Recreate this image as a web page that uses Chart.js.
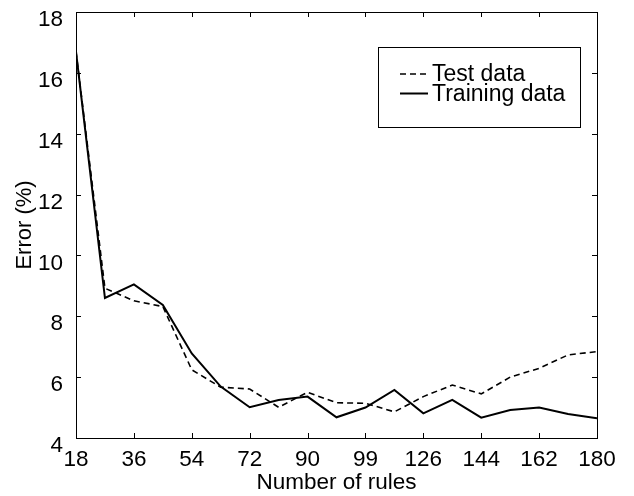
<!DOCTYPE html>
<html>
<head>
<meta charset="utf-8">
<script src="https://cdn.jsdelivr.net/npm/chart.js@4/dist/chart.umd.min.js"></script>
<style>
  html, body { margin: 0; padding: 0; background: #fff; }
  #wrap { width: 634px; height: 496px; position: relative; }
</style>
</head>
<body>
<div id="wrap"><canvas id="c" width="634" height="496"></canvas></div>
<script>
// ---- data ----
const numRules = [18, 27, 36, 45, 54, 63, 72, 81, 90, 99, 108, 117, 126, 135, 144, 153, 162, 171, 180];
const testError = [16.7, 8.92, 8.51, 8.32, 6.24, 5.67, 5.61, 5.01, 5.50, 5.16, 5.14, 4.86, 5.36, 5.74, 5.45, 6.00, 6.29, 6.73, 6.84];
const trainingError = [16.7, 8.60, 9.05, 8.37, 6.78, 5.69, 5.01, 5.25, 5.36, 4.68, 5.00, 5.58, 4.81, 5.25, 4.67, 4.92, 5.00, 4.79, 4.65];
const xTickLabels = ['18', '36', '54', '72', '90', '99', '126', '144', '162', '180'];
const yTickValues = [4, 6, 8, 10, 12, 14, 16, 18];
const seriesLabels = ['Test data', 'Training data'];
const xTitle = 'Number of rules';
const yTitle = 'Error (%)';

const FONT = "'Liberation Sans', Arial, Helvetica, sans-serif";
Chart.defaults.color = '#000';
Chart.defaults.font.family = FONT;

const toPoints = (xs, ys) => xs.map((x, i) => ({ x: x, y: ys[i] }));

// frame with inward tick marks on all four sides
const framePlugin = {
  id: 'frameTicks',
  afterDatasetsDraw(chart) {
    const { ctx, chartArea: a, scales } = chart;
    ctx.save();
    ctx.strokeStyle = '#000';
    ctx.lineWidth = 1;
    ctx.strokeRect(a.left + 0.5, a.top + 0.5, a.right - a.left, a.bottom - a.top);
    const L = 5;
    ctx.beginPath();
    scales.x.ticks.forEach(t => {
      const px = Math.round(scales.x.getPixelForValue(t.value)) + 0.5;
      ctx.moveTo(px, a.bottom); ctx.lineTo(px, a.bottom - L);
      ctx.moveTo(px, a.top); ctx.lineTo(px, a.top + L);
    });
    scales.y.ticks.forEach(t => {
      const py = Math.round(scales.y.getPixelForValue(t.value)) + 0.5;
      ctx.moveTo(a.left, py); ctx.lineTo(a.left + L, py);
      ctx.moveTo(a.right, py); ctx.lineTo(a.right - L, py);
    });
    ctx.stroke();
    ctx.restore();
  }
};

// boxed legend inside the plot area, top-right
const boxLegendPlugin = {
  id: 'boxLegend',
  afterDraw(chart) {
    const { ctx, chartArea: a } = chart;
    const bx = a.right - 219, by = a.top + 35, bw = 202, bh = 80;
    ctx.save();
    ctx.fillStyle = '#fff';
    ctx.fillRect(bx, by, bw, bh);
    ctx.strokeStyle = '#000';
    ctx.lineWidth = 1;
    ctx.strokeRect(bx + 0.5, by + 0.5, bw, bh);
    ctx.font = '23px ' + FONT;
    ctx.textBaseline = 'middle';
    ctx.fillStyle = '#000';
    chart.data.datasets.forEach((ds, i) => {
      const cy = by + 27 + i * 19.5;
      ctx.beginPath();
      ctx.setLineDash(ds.borderDash || []);
      ctx.lineWidth = ds.borderWidth;
      ctx.moveTo(bx + 22, cy);
      ctx.lineTo(bx + 50, cy);
      ctx.stroke();
      ctx.setLineDash([]);
      ctx.fillText(ds.label, bx + 54, cy + 1);
    });
    ctx.restore();
  }
};

new Chart(document.getElementById('c'), {
  type: 'line',
  data: {
    datasets: [
      {
        label: seriesLabels[0],
        data: toPoints(numRules, testError),
        borderColor: '#000',
        borderWidth: 1.6,
        borderDash: [6, 4],
        pointRadius: 0,
        fill: false,
        tension: 0
      },
      {
        label: seriesLabels[1],
        data: toPoints(numRules, trainingError),
        borderColor: '#000',
        borderWidth: 2,
        pointRadius: 0,
        fill: false,
        tension: 0
      }
    ]
  },
  options: {
    responsive: false,
    animation: false,
    layout: { padding: { top: 12, right: 37, left: 0, bottom: 0 } },
    plugins: {
      legend: { display: false },
      tooltip: { enabled: false }
    },
    scales: {
      x: {
        type: 'linear',
        min: 18,
        max: 180,
        border: { display: false },
        grid: { display: false, drawTicks: false },
        ticks: {
          stepSize: 18,
          autoSkip: false,
          maxRotation: 0,
          padding: 8,
          font: { size: 22.5 },
          color: '#000',
          callback: (v, i) => xTickLabels[i]
        },
        title: {
          display: true,
          text: xTitle,
          font: { size: 22.5 },
          color: '#000',
          padding: { top: 0, bottom: 0 }
        },
        afterFit: s => { s.height = 58; s.paddingLeft = 0; s.paddingRight = 0; }
      },
      y: {
        min: 4,
        max: 18,
        border: { display: false },
        grid: { display: false, drawTicks: false },
        afterBuildTicks: s => { s.ticks = yTickValues.map(v => ({ value: v })); },
        ticks: {
          padding: 13,
          labelOffset: 8,
          font: { size: 22.5 },
          color: '#000'
        },
        title: {
          display: true,
          text: yTitle,
          font: { size: 22 },
          color: '#000',
          padding: { top: 12, bottom: 0 }
        },
        afterFit: s => { s.width = 76; s.paddingTop = 0; s.paddingBottom = 0; }
      }
    }
  },
  plugins: [framePlugin, boxLegendPlugin]
});
</script>
</body>
</html>
